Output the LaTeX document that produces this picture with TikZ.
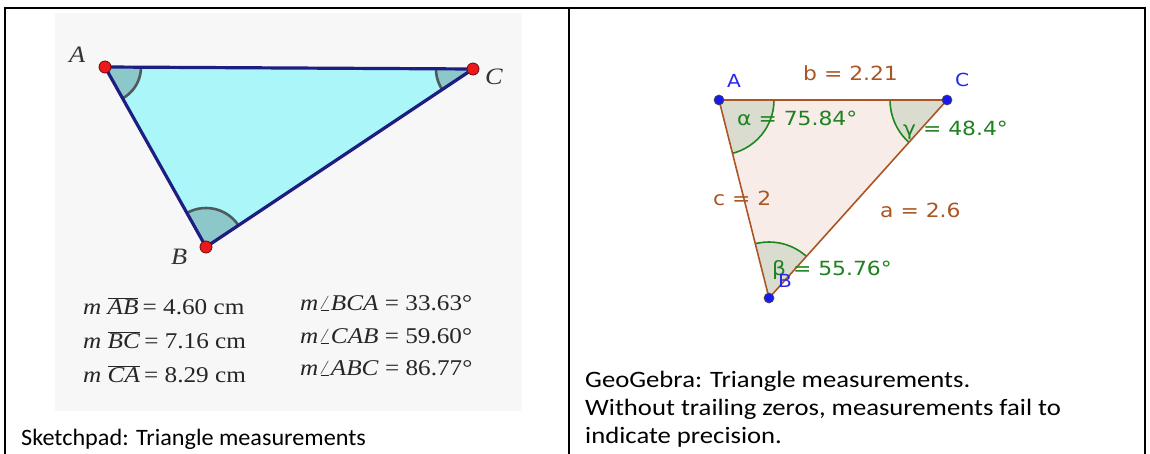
\documentclass[tikz,border=0pt]{standalone}
\usepackage{fontspec}
\usepackage{graphicx}
\setmainfont{Liberation Serif}
\newfontfamily\capfont{Carlito}
\newfontfamily\ggfont{DejaVu Sans}
\definecolor{skbg}{RGB}{247,247,247}
\definecolor{skfill}{RGB}{170,246,248}
\definecolor{skedge}{RGB}{30,30,130}
\definecolor{skang}{RGB}{140,200,202}
\definecolor{skarc}{RGB}{80,90,92}
\definecolor{skpt}{RGB}{235,25,30}
\definecolor{skptd}{RGB}{110,10,10}
\definecolor{ggfill}{RGB}{248,236,232}
\definecolor{ggang}{RGB}{218,220,208}
\definecolor{ggarc}{RGB}{30,135,30}
\definecolor{ggedge}{RGB}{170,85,35}
\definecolor{ggtext}{RGB}{170,85,35}
\definecolor{ggblue}{RGB}{25,25,235}
\definecolor{ggbluetext}{RGB}{40,40,230}
\definecolor{gggreen}{RGB}{30,130,30}
\newcommand{\hsx}[1]{\scalebox{1.12}[1]{#1}}
\newcommand{\hsr}[1]{\scalebox{1.135}[1]{#1}}
\newcommand{\hsl}[1]{\scalebox{1.03}[1]{#1}}
\tikzset{
  tbl/.style={line width=2.4pt, black},
  skpoint/.style={circle, fill=skpt, draw=skptd, line width=0.8pt, minimum size=12pt, inner sep=0},
  ggpoint/.style={circle, fill=ggblue, draw=black!70, line width=0.7pt, minimum size=10pt, inner sep=0},
  sklabel/.style={anchor=base west, inner sep=0, font=\fontsize{23.5}{27}\selectfont\itshape, text=black!80},
  skmeas/.style={anchor=base west, inner sep=0, font=\fontsize{22.5}{27}\selectfont, text=black!85},
  gglabel/.style={anchor=base west, inner sep=0, font=\ggfont\fontsize{18}{22}\selectfont, text=ggbluetext},
  ggmeas/.style={anchor=base west, inner sep=0, font=\ggfont\fontsize{19.5}{24}\selectfont},
  capt/.style={anchor=base west, inner sep=0, font=\capfont\fontsize{23.5}{28}\selectfont, text=black},
}
\begin{document}
\begin{tikzpicture}[x=1pt,y=-1pt]
\useasboundingbox (0,0) rectangle (1150,454);
\fill[white] (0,0) rectangle (1150,454);
% table
\draw[tbl] (3.8,7.8) -- (1146,7.8);
\draw[tbl] (5,6.6) -- (5,454);
\draw[tbl] (569,6.6) -- (569,454);
\draw[tbl] (1144.7,6.6) -- (1144.7,454);
% Sketchpad background
\fill[skbg] (55,13.5) rectangle (522,411);
% Sketchpad triangle
\coordinate (sA) at (105,67);
\coordinate (sC) at (473,69);
\coordinate (sB) at (206,247);
\fill[skfill] (sA) -- (sB) -- (sC) -- cycle;
\begin{scope}
  \clip (sA) -- (sB) -- (sC) -- cycle;
  \filldraw[fill=skang, draw=skarc, line width=2.6pt] (sA) circle [radius=36pt];
  \filldraw[fill=skang, draw=skarc, line width=2.6pt] (sC) circle [radius=37pt];
  \filldraw[fill=skang, draw=skarc, line width=2.6pt] (sB) circle [radius=39pt];
\end{scope}
\draw[skedge, line width=3.2pt, line join=round] (sA) -- (sB) -- (sC) -- cycle;
\node[skpoint] (pA) at (sA) {};
\node[skpoint] (pB) at (sB) {};
\node[skpoint] (pC) at (sC) {};
\node[sklabel] (lA) at (69,63) {\hsx{A}};
\node[sklabel] (lC) at (485,85) {\hsx{C}};
\node[sklabel] (lB) at (171,265) {\hsx{B}};
% Sketchpad measurements
\node[skmeas] (m1) at (83,314) {\hsx{\textit{m} $\overline{\mbox{\textit{AB}}}$\,= 4.60 cm}};
\node[skmeas] (m2) at (83,348) {\hsx{\textit{m} $\overline{\mbox{\textit{BC}}}$\,= 7.16 cm}};
\node[skmeas] (m3) at (83,382) {\hsx{\textit{m} $\overline{\mbox{\textit{CA}}}$\,= 8.29 cm}};
\node[skmeas] (m4) at (300,310) {\hsx{\textit{m}$\angle$\textit{BCA} = 33.63°}};
\node[skmeas] (m5) at (300,343) {\hsx{\textit{m}$\angle$\textit{CAB} = 59.60°}};
\node[skmeas] (m6) at (300,375) {\hsx{\textit{m}$\angle$\textit{ABC} = 86.77°}};
% GeoGebra triangle
\coordinate (gA) at (719,100);
\coordinate (gC) at (947,100);
\coordinate (gB) at (769,298);
\fill[ggfill] (gA) -- (gB) -- (gC) -- cycle;
\begin{scope}
  \clip (gA) -- (gB) -- (gC) -- cycle;
  \filldraw[fill=ggang, draw=ggarc, line width=1.6pt] (gA) circle [radius=55pt];
  \filldraw[fill=ggang, draw=ggarc, line width=1.6pt] (gC) circle [radius=57pt];
  \filldraw[fill=ggang, draw=ggarc, line width=1.6pt] (gB) circle [radius=56pt];
\end{scope}
\draw[ggedge, line width=1.6pt] (gA) -- (gC);
\draw[ggedge, line width=1.6pt] (gC) -- (gB);
\draw[ggedge, line width=1.6pt] (gB) -- (gA);
\node[ggpoint] (qA) at (gA) {};
\node[ggpoint] (qB) at (gB) {};
\node[ggpoint] (qC) at (gC) {};
\node[gglabel] (tA) at (727,88) {\hsx{A}};
\node[gglabel] (tC) at (955,87) {\hsx{C}};
\node[ggmeas, text=ggtext] (tb) at (803,81) {\hsx{b = 2.21}};
\node[ggmeas, text=gggreen] (tal) at (737,126) {\hsx{α = 75.84°}};
\node[ggmeas, text=gggreen] (tga) at (903,136) {\hsx{γ = 48.4°}};
\node[ggmeas, text=ggtext] (tc) at (713,206) {\hsx{c = 2}};
\node[ggmeas, text=ggtext] (ta) at (880,218) {\hsx{a = 2.6}};
\node[ggmeas, text=gggreen] (tbe) at (772,275) {\hsx{β = 55.76°}};
\node[gglabel] (tB) at (778,287) {\hsx{B}};
% captions
\node[capt] (cap1) at (21,445.5) {\hsl{Sketchpad: Triangle measurements}};
\node[capt] (cap2) at (585,387) {\hsr{GeoGebra: Triangle measurements.}};
\node[capt] (cap3) at (585,415) {\hsr{Without trailing zeros, measurements fail to}};
\node[capt] (cap4) at (585,443) {\hsr{indicate precision.}};
\end{tikzpicture}
\end{document}
